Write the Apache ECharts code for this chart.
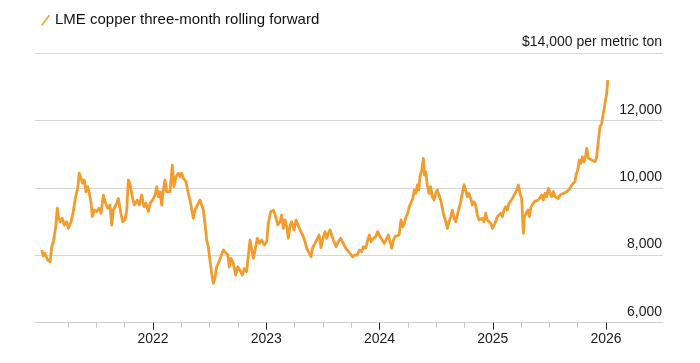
<!DOCTYPE html>
<html>
<head>
<meta charset="utf-8">
<script src="https://cdn.jsdelivr.net/npm/echarts@6/dist/echarts.min.js"></script>
<style>
html,body{margin:0;padding:0;background:#fff;}
#chart{width:700px;height:363px;}
</style>
</head>
<body>
<div id="chart"></div>
<script>
// Time positions (decimal years)
const time = [
2021.017,2021.031,2021.046,2021.070,2021.091,2021.106,2021.120,2021.141,2021.155,2021.164,
2021.179,2021.199,2021.217,2021.238,2021.252,2021.276,2021.296,2021.317,2021.335,2021.349,
2021.364,2021.379,2021.393,2021.408,2021.423,2021.438,2021.453,2021.464,2021.482,2021.503,
2021.523,2021.541,2021.561,2021.582,2021.600,2021.620,2021.635,2021.649,2021.664,2021.679,
2021.694,2021.717,2021.732,2021.753,2021.768,2021.782,2021.797,2021.817,2021.835,2021.841,
2021.861,2021.879,2021.900,2021.921,2021.938,2021.959,2021.974,2021.997,2022.018,2022.033,
2022.047,2022.062,2022.077,2022.091,2022.106,2022.121,2022.135,2022.150,2022.170,2022.185,
2022.203,2022.223,2022.238,2022.253,2022.268,2022.291,2022.312,2022.327,2022.342,2022.356,
2022.371,2022.386,2022.400,2022.415,2022.430,2022.444,2022.459,2022.474,2022.488,2022.503,
2022.518,2022.532,2022.547,2022.562,2022.577,2022.592,2022.607,2022.621,2022.642,2022.660,
2022.674,2022.689,2022.709,2022.730,2022.748,2022.768,2022.789,2022.806,2022.827,2022.842,
2022.857,2022.872,2022.886,2022.901,2022.921,2022.939,2022.960,2022.983,2023.004,2023.018,
2023.039,2023.062,2023.083,2023.101,2023.121,2023.136,2023.151,2023.166,2023.181,2023.195,
2023.210,2023.225,2023.245,2023.263,2023.278,2023.292,2023.313,2023.327,2023.342,2023.357,
2023.371,2023.395,2023.407,2023.424,2023.446,2023.466,2023.483,2023.504,2023.519,2023.534,
2023.548,2023.563,2023.578,2023.592,2023.616,2023.636,2023.657,2023.680,2023.702,2023.719,
2023.740,2023.760,2023.784,2023.804,2023.822,2023.843,2023.857,2023.878,2023.896,2023.910,
2023.925,2023.945,2023.966,2023.984,2024.004,2024.025,2024.042,2024.064,2024.078,2024.093,
2024.108,2024.122,2024.137,2024.152,2024.172,2024.190,2024.205,2024.219,2024.234,2024.249,
2024.263,2024.278,2024.293,2024.307,2024.322,2024.334,2024.346,2024.358,2024.373,2024.387,
2024.396,2024.408,2024.422,2024.437,2024.452,2024.466,2024.481,2024.496,2024.510,2024.525,
2024.540,2024.555,2024.570,2024.585,2024.599,2024.614,2024.629,2024.643,2024.658,2024.673,
2024.687,2024.702,2024.717,2024.731,2024.746,2024.761,2024.775,2024.790,2024.805,2024.819,
2024.834,2024.849,2024.864,2024.879,2024.894,2024.908,2024.923,2024.938,2024.952,2024.967,
2024.982,2024.996,2025.011,2025.026,2025.040,2025.055,2025.070,2025.084,2025.099,2025.114,
2025.128,2025.143,2025.158,2025.173,2025.188,2025.196,2025.211,2025.226,2025.241,2025.256,
2025.264,2025.270,2025.279,2025.294,2025.309,2025.323,2025.338,2025.353,2025.367,2025.382,
2025.402,2025.417,2025.432,2025.446,2025.461,2025.476,2025.491,2025.506,2025.521,2025.535,
2025.550,2025.565,2025.579,2025.594,2025.609,2025.623,2025.638,2025.653,2025.667,2025.682,
2025.697,2025.711,2025.726,2025.735,2025.750,2025.764,2025.779,2025.791,2025.806,2025.821,
2025.830,2025.844,2025.859,2025.874,2025.888,2025.903,2025.918,2025.932,2025.947,2025.962,
2025.976,2025.991,2026.006,2026.015
];
// LME copper three-month price, $ per metric ton
const price = [
8160,7980,8060,7860,7810,8255,8405,8850,9400,9150,
9000,9100,8900,9000,8800,9000,9300,9740,9990,10440,
10390,10140,10240,9890,10040,9840,9545,9150,9345,9300,
9400,9250,9790,9545,9400,9495,8900,9345,9300,9545,
9690,9250,9000,9050,9345,10240,10140,9740,9495,9545,
9645,9495,9790,9445,9545,9300,9545,9645,9790,10040,
9740,9890,9495,9940,10240,9890,9940,9890,10680,10040,
10335,10440,10335,10440,10290,10190,9840,9645,9345,9100,
9345,9445,9545,9645,9690,9345,8950,8455,8255,7860,
7465,7170,7320,7660,7760,7900,7860,8160,8080,8010,
7660,7910,7760,7415,7660,7560,7415,7610,7515,8010,
8455,8160,7910,8160,8505,8355,8455,8305,8405,8950,
9295,9345,9150,8900,9000,9195,8800,9050,8850,8505,
8900,9000,8750,9050,9000,8800,8655,8555,8405,8210,
8160,7960,8210,8210,8455,8605,8230,8555,8705,8505,
8655,8755,8800,8455,8255,8405,8505,8355,8210,8255,
8060,7960,8010,8010,8160,8110,8255,8210,8455,8605,
8405,8505,8555,8705,8555,8455,8355,8505,8605,8405,
8210,8455,8555,8505,8605,9050,8850,8950,9150,9250,
9445,9495,9690,9940,9840,10090,9940,10360,10535,10880,
10385,10485,10090,9840,10040,9740,9645,9840,9940,9890,
9645,9400,9150,9000,8800,9000,9150,9345,9100,9000,
9195,9400,9595,9840,10090,9940,9740,9840,9690,9495,
9595,9495,9195,9050,9000,9100,9000,9250,9050,9000,
8950,8800,8900,9000,9150,9100,9250,9150,9345,9445,
9345,9545,9545,9690,9790,9840,9940,10090,9840,9645,
9050,8655,9150,9250,9345,9150,9445,9495,9595,9545,
9645,9690,9790,9645,9840,9740,9990,9840,9740,9890,
9740,9790,9690,9790,9740,9840,9790,9890,9840,9990,
10090,10040,10190,10385,10535,10830,10735,10930,10780,10980,
11180,10880,10930,10830,10780,10780,10930,11425,11820,11920,
12220,12515,12810,13205
];
const yearTicks = [2022, 2023, 2024, 2025, 2026];
const quarterTicks = [2021.25, 2021.5, 2021.75, 2022.25, 2022.5, 2022.75, 2023.25, 2023.5, 2023.75,
  2024.25, 2024.5, 2024.75, 2025.25, 2025.5, 2025.75];
const yTicks = [6000, 8000, 10000, 12000, 14000];
const seriesName = 'LME copper three-month rolling forward';
const unitLabel = '$14,000 per metric ton';

const FONT = '"Liberation Sans", Arial, Helvetica, sans-serif';
const seriesData = time.map((t, i) => [t, price[i]]);
const X_MIN = 2020.958, X_MAX = 2026.503;

const chart = echarts.init(document.getElementById('chart'), null, {renderer: 'canvas'});
chart.setOption({
  animation: false,
  backgroundColor: '#ffffff',
  textStyle: {fontFamily: FONT},
  legend: {
    left: 31, top: 7,
    itemWidth: 14, itemHeight: 14,
    icon: 'path://M0,0 M14,14 M5,12.5 L12.8,2.2 L14,3.2 L6.2,13.5 Z',
    textStyle: {fontSize: 15, color: '#111', fontFamily: FONT},
    data: [seriesName],
    selectedMode: false
  },
  grid: {left: 35, right: 37, top: 53.3, bottom: 40.3, containLabel: false},
  xAxis: [
    {
      type: 'value', min: X_MIN, max: X_MAX,
      axisLine: {show: true, lineStyle: {color: '#cfcfcf', width: 1}},
      axisTick: {show: true, customValues: yearTicks, length: 7, lineStyle: {color: '#222', width: 1}},
      axisLabel: {show: true, customValues: yearTicks, margin: 9, fontSize: 14, color: '#1a1a1a',
        fontFamily: FONT, formatter: v => String(Math.round(v))},
      splitLine: {show: false}
    },
    {
      type: 'value', min: X_MIN, max: X_MAX, position: 'bottom',
      axisLine: {show: false},
      axisTick: {show: true, customValues: quarterTicks, length: 5, lineStyle: {color: '#c4c4c4', width: 1}},
      axisLabel: {show: false},
      splitLine: {show: false}
    }
  ],
  yAxis: {
    type: 'value', position: 'right', min: 6000, max: 14000, interval: 2000,
    axisLine: {show: false}, axisTick: {show: false},
    splitLine: {show: true, lineStyle: {color: '#d6d6d6', width: 1}},
    axisLabel: {
      inside: true, margin: 1, fontSize: 14, color: '#1a1a1a', fontFamily: FONT,
      verticalAlign: 'bottom', padding: [0, 0, 4, 0],
      showMinLabel: true, showMaxLabel: true,
      formatter: v => v === 14000 ? unitLabel : v.toLocaleString('en-US')
    }
  },
  series: [{
    name: seriesName, type: 'line', data: seriesData, xAxisIndex: 0,
    showSymbol: false, symbol: 'none',
    lineStyle: {color: '#f39c2e', width: 2.8, join: 'round'},
    itemStyle: {color: '#f39c2e'}
  }]
});
</script>
</body>
</html>
